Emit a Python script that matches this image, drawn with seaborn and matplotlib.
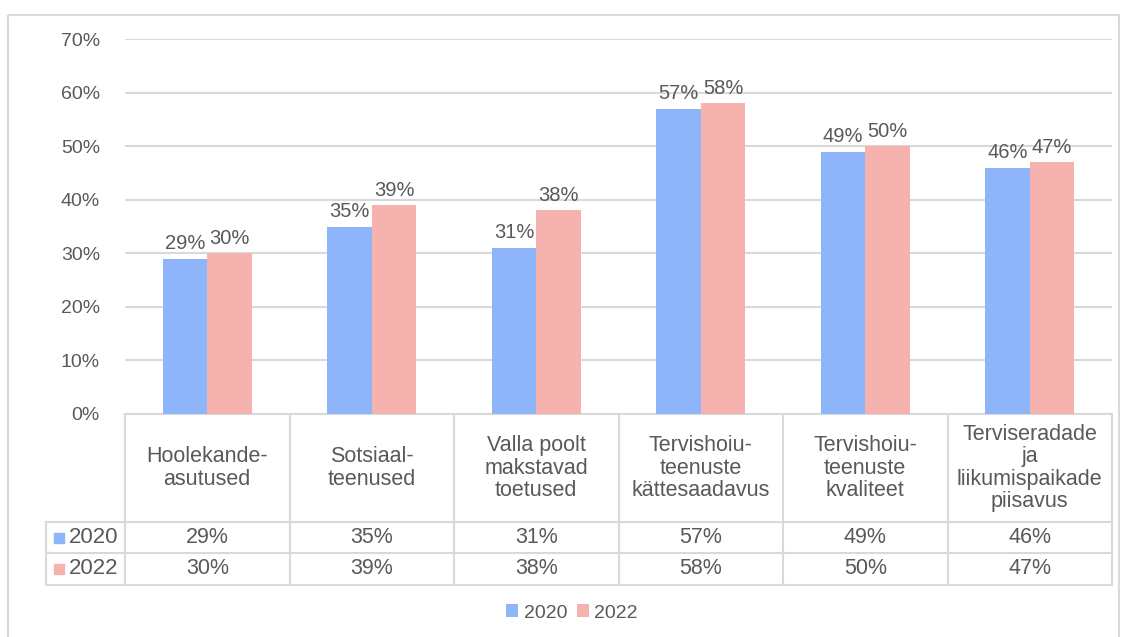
import matplotlib
matplotlib.use("Agg")
import matplotlib.pyplot as plt
import seaborn as sns
import pandas as pd

# chart data
categories = ["Hoolekande-\nasutused", "Sotsiaal-\nteenused", "Valla poolt\nmakstavad\ntoetused",
              "Tervishoiu-\nteenuste\nkättesaadavus", "Tervishoiu-\nteenuste\nkvaliteet",
              "Terviseradade\nja\nliikumispaikade\npiisavus"]
years = ["2020", "2022"]
values_2020 = [29, 35, 31, 57, 49, 46]
values_2022 = [30, 39, 38, 58, 50, 47]
y_ticks = [0, 10, 20, 30, 40, 50, 60, 70]

colors = ["#8EB4F9", "#F6B2AE"]
grid_col = "#D9D9D9"
text_col = "#595959"

df = pd.DataFrame({
    "cat": categories * 2,
    "year": [years[0]] * len(categories) + [years[1]] * len(categories),
    "val": values_2020 + values_2022,
})

sns.set_theme(style="white")
plt.rcParams["font.family"] = ["Liberation Sans", "DejaVu Sans"]

W, H = 1123, 637
fig = plt.figure(figsize=(W / 100, H / 100), dpi=100)

# pixel layout of the plot area
x0, x1 = 125, 1112
y_top, y_zero = 39, 414

# overlay axes in pixel coords for frame and table
ov = fig.add_axes([0, 0, 1, 1], zorder=0)
ov.set_xlim(0, W)
ov.set_ylim(H, 0)
ov.axis("off")
ov.add_patch(plt.Rectangle((8, 15), 1111, 640, fill=False, edgecolor=grid_col, lw=1.5))

ax = fig.add_axes([x0 / W, 1 - y_zero / H, (x1 - x0) / W, (y_zero - y_top) / H], zorder=1)
ax.patch.set_alpha(0)

sns.barplot(data=df, x="cat", y="val", hue="year", palette=colors, width=0.54,
            saturation=1, linewidth=0, ax=ax, legend=True)

for c in ax.containers:
    ax.bar_label(c, labels=[f"{v:.0f}%" for v in c.datavalues], padding=4,
                 fontsize=14.5, color=text_col)

ax.set_xlim(-0.5, len(categories) - 0.5)
ax.set_ylim(0, 70)
ax.set_yticks(y_ticks)
ax.set_yticklabels([f"{t}%" for t in y_ticks], fontsize=14, color=text_col)
ax.tick_params(axis="y", length=0, pad=18)
ax.set_xticks([])
ax.set_xlabel("")
ax.set_ylabel("")
for s in ax.spines.values():
    s.set_visible(False)
ax.yaxis.grid(True, color=grid_col, lw=1.5)
ax.set_axisbelow(True)

# legend at the bottom
ax.legend(loc="center", bbox_to_anchor=(572 / W, 1 - 613 / H), bbox_transform=fig.transFigure,
          ncol=2, frameon=False, handlelength=0.6, handleheight=0.6, columnspacing=0.5,
          handletextpad=0.3, fontsize=14, labelcolor=text_col)

# data table below the axis
col_w = (x1 - x0) / len(categories)
hdr_bot, r1_bot, r2_bot = 522, 553, 585
lab_x = 46
lk = dict(color=grid_col, lw=1.5)
ov.plot([x0, x1], [y_zero, y_zero], **lk)
for yy in (hdr_bot, r1_bot, r2_bot):
    ov.plot([lab_x, x1], [yy, yy], **lk)
for i in range(len(categories) + 1):
    xx = x0 + i * col_w
    ov.plot([xx, xx], [y_zero, r2_bot], **lk)
ov.plot([lab_x, lab_x], [hdr_bot, r2_bot], **lk)

for i, cat in enumerate(categories):
    cx = x0 + (i + 0.5) * col_w
    ov.text(cx, (y_zero + hdr_bot) / 2, cat, ha="center", va="center", fontsize=15.5,
            color=text_col, linespacing=1.1)
    ov.text(cx, (hdr_bot + r1_bot) / 2, f"{values_2020[i]}%", ha="center", va="center",
            fontsize=15.5, color=text_col)
    ov.text(cx, (r1_bot + r2_bot) / 2, f"{values_2022[i]}%", ha="center", va="center",
            fontsize=15.5, color=text_col)

for (top, bot), yr, col in zip([(hdr_bot, r1_bot), (r1_bot, r2_bot)], years, colors):
    cy = (top + bot) / 2
    ov.add_patch(plt.Rectangle((54, cy - 5), 10, 10, color=col))
    ov.text(69, cy, yr, ha="left", va="center", fontsize=16, color=text_col)

fig.savefig("out.png", dpi=100)
